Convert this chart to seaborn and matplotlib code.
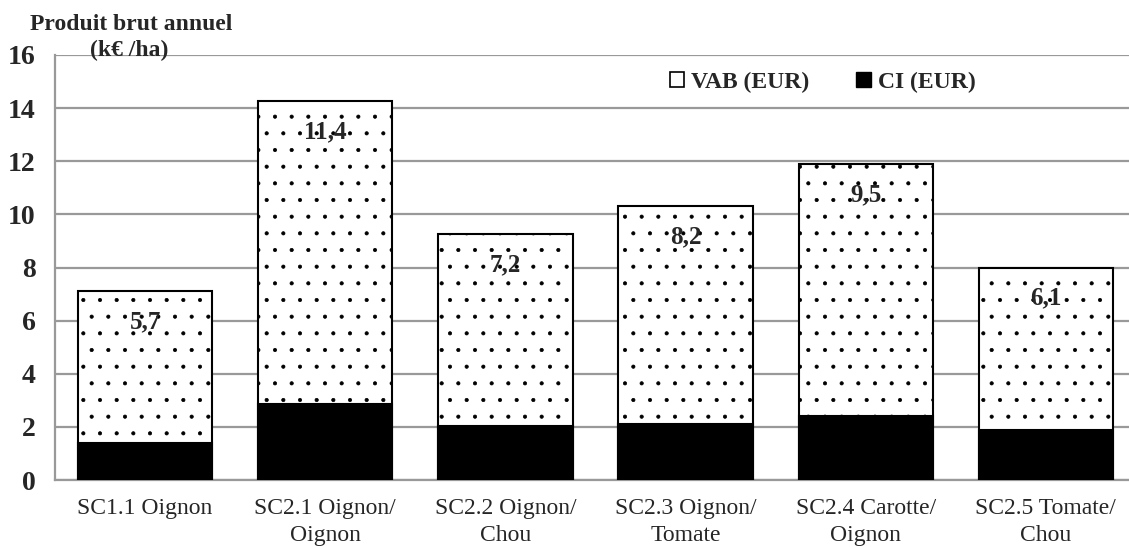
import numpy as np
import pandas as pd
import matplotlib
matplotlib.use("Agg")
import matplotlib.pyplot as plt
import seaborn as sns
from matplotlib.patches import Patch

# data (k€/ha)
systems = ["SC1.1 Oignon", "SC2.1 Oignon/\nOignon", "SC2.2 Oignon/\nChou",
           "SC2.3 Oignon/\nTomate", "SC2.4 Carotte/\nOignon", "SC2.5 Tomate/\nChou"]
ci = [1.4, 2.85, 2.05, 2.1, 2.4, 1.9]
vab = [5.7, 11.4, 7.2, 8.2, 9.5, 6.1]
vab_labels = ["5,7", "11,4", "7,2", "8,2", "9,5", "6,1"]

df = pd.DataFrame({"systeme": systems, "CI": ci, "VAB": vab})
df["total"] = df["CI"] + df["VAB"]

sns.set_style("white")
plt.rcParams['font.family'] = ['Liberation Serif', 'DejaVu Serif']
plt.rcParams['hatch.linewidth'] = 0.5

fig = plt.figure(figsize=(11.29, 5.47), dpi=100)
ax = fig.add_axes([55/1129, 67/547, 1081/1129, 425/547])

# VAB stacked on CI: draw the full height hatched, then CI in black
sns.barplot(data=df, x="systeme", y="total", color="white", edgecolor="black",
            linewidth=1.5, hatch=".", width=0.745, saturation=1, ax=ax, zorder=3)
sns.barplot(data=df, x="systeme", y="CI", color="black", edgecolor="black",
            linewidth=1.5, width=0.745, saturation=1, ax=ax, zorder=4)

for i, (t, lab) in enumerate(zip(df["total"], vab_labels)):
    ax.text(i, t - 1.15, lab, ha="center", va="center", fontsize=18,
            fontweight="bold", zorder=5)

ax.set_ylim(0, 16)
ax.set_xlim(-0.5, 5.5)
ax.set_yticks(range(0, 17, 2))
ax.yaxis.grid(True, color="#999999", linewidth=1.6, zorder=0)
ax.set_axisbelow(True)
ax.set_xlabel("")
ax.set_ylabel("")

for s in ["top", "right"]:
    ax.spines[s].set_visible(False)
for s in ["left", "bottom"]:
    ax.spines[s].set_color("#999999")
    ax.spines[s].set_linewidth(1.6)

ax.tick_params(axis="y", length=6, width=1.6, color="#999999", labelsize=20, pad=8)
for lab in ax.get_yticklabels():
    lab.set_fontweight("bold")
ax.tick_params(axis="x", which="major", length=0, labelsize=17, pad=13)
for lab in ax.get_xticklabels():
    lab.set_linespacing(1.35)
ax.set_xticks(np.arange(-0.5, 6, 1), minor=True)
ax.tick_params(axis="x", which="minor", length=6, width=1.6, color="#999999")

fig.text(131/1129, 1 - 25/547, "Produit brut annuel", ha="center", va="center",
         fontsize=17, fontweight="bold")
fig.text(129/1129, 1 - 50/547, "(k€ /ha)", ha="center", va="center",
         fontsize=17, fontweight="bold")

handles = [Patch(facecolor="white", edgecolor="black", linewidth=1.2),
           Patch(facecolor="black", edgecolor="black")]
ax.legend(handles, ["VAB (EUR)", "CI (EUR)"], ncol=2, frameon=False,
          loc="center", bbox_to_anchor=(0.710, 1 - 27/425),
          prop={"weight": "bold", "size": 17}, handlelength=0.6,
          handleheight=0.6, handletextpad=0.3, columnspacing=2.0)

fig.savefig("out.png", dpi=100)
